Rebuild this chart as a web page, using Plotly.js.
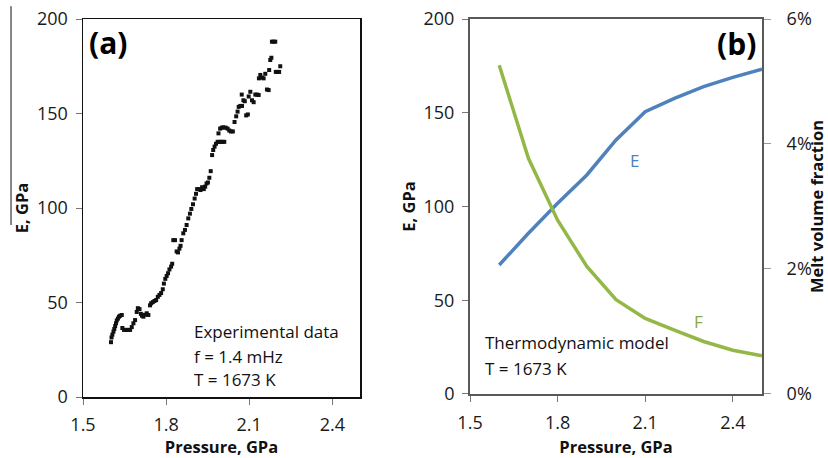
<!DOCTYPE html>
<html>
<head>
<meta charset="utf-8">
<script src="https://cdn.plot.ly/plotly-3.0.1.min.js"></script>
<style>html,body{margin:0;padding:0;background:#fff;}</style>
</head>
<body>
<div id="chart" style="width:828px;height:458px;"></div>
<script>
// Panel (a): experimental data
const pressureExp = [1.601,1.603,1.606,1.610,1.613,1.616,1.619,1.622,1.626,1.630,1.634,1.640,1.642,1.648,1.655,1.662,1.670,1.676,1.682,1.688,1.694,1.698,1.704,1.709,1.713,1.718,1.724,1.730,1.736,1.742,1.746,1.752,1.758,1.764,1.770,1.776,1.782,1.788,1.792,1.797,1.802,1.807,1.812,1.818,1.822,1.826,1.832,1.838,1.843,1.848,1.852,1.856,1.862,1.868,1.874,1.880,1.886,1.891,1.897,1.903,1.908,1.912,1.918,1.924,1.930,1.936,1.941,1.946,1.951,1.956,1.961,1.966,1.970,1.975,1.980,1.986,1.992,1.998,2.004,2.010,1.989,1.995,2.001,2.007,2.015,2.022,2.028,2.034,2.041,2.047,2.053,2.058,2.062,2.068,2.074,2.073,2.079,2.084,2.089,2.095,2.098,2.104,2.110,2.116,2.122,2.128,2.134,2.135,2.140,2.146,2.152,2.158,2.164,2.170,2.172,2.176,2.180,2.182,2.188,2.194,2.196,2.202,2.208,2.212];
const modulusExp = [29,31.5,33,34.6,36,37.5,39,40.5,41.5,42.5,43,43.4,36.5,35.5,35.5,35.5,35.5,37,39,40.7,45,47,46.5,44,43,42.5,43.5,44.3,43.4,48.5,49.6,50.2,50.8,51.3,53,54,55,57,60,62.5,64,65.5,67.5,69,70.5,83,83,77,76.5,78.5,80,83,86.6,88.4,91,94.5,97,99.5,102,105,107.5,110,110,109.5,111,110,111.3,113,113.5,116,119.5,128,130.7,132.5,134,135,135,135,135,135,139.5,142,142.5,142.7,142.5,142,141,140.5,140.5,145.5,148.5,151,153.5,154,154,160,157,156.5,149,149.5,159,161.5,157,156,160,160,159.8,168.6,170.4,169,168.6,171,162.7,162.4,173,178.3,179.5,188,188,188,172,172,172,175];

// Panel (b): thermodynamic model
const pressureModel = [1.6,1.7,1.8,1.9,2.0,2.1,2.2,2.3,2.4,2.5];
const modulusModel = [68.8,85.7,101.7,116.8,135.5,150.6,157.7,163.9,168.9,173.2];
const meltFraction = [0.0526,0.0377,0.0278,0.0204,0.0151,0.0121,0.0102,0.0084,0.0070,0.0061];

const pressureTicks = [1.5,1.8,2.1,2.4];
const pressureTickText = ['1.5','1.8','2.1','2.4'];

const FONT = 'Open Sans, sans-serif';
const tickFont = {family: FONT, size: 18, color: '#1a1a1a'};
const titleFont = {family: FONT, size: 16.5, color: '#111', weight: 'bold'};
const blue = '#4f81bd';
const green = '#93b847';

const traces = [
  {x: pressureExp, y: modulusExp, xaxis: 'x', yaxis: 'y', type: 'scatter', mode: 'markers',
   marker: {color: '#111', size: 4, symbol: 'square'}, hoverinfo: 'x+y'},
  {x: pressureModel, y: modulusModel, xaxis: 'x2', yaxis: 'y2', type: 'scatter', mode: 'lines',
   line: {color: blue, width: 3.5}},
  {x: pressureModel, y: meltFraction, xaxis: 'x2', yaxis: 'y3', type: 'scatter', mode: 'lines',
   line: {color: green, width: 3.5}}
];

function xax(domain, anchor, lc, lw) {
  return {domain: domain, anchor: anchor, range: [1.5, 2.5], tickvals: pressureTicks, ticktext: pressureTickText,
    ticks: 'outside', ticklen: 6, tickcolor: '#777', tickwidth: 1, showline: true, mirror: true, linecolor: lc, linewidth: lw,
    showgrid: false, zeroline: false, tickfont: tickFont, automargin: false, ticklabelstandoff: 5,
    title: {text: 'Pressure, GPa', font: titleFont, standoff: 10}};
}
function yax(domain, anchor, lc, lw) {
  return {domain: domain, anchor: anchor, range: [0, 200], tickvals: [0,50,100,150,200],
    ticks: 'outside', ticklen: 6, tickcolor: '#777', tickwidth: 1, showline: true, mirror: true, linecolor: lc, linewidth: lw,
    showgrid: false, zeroline: false, tickfont: tickFont, automargin: false, ticklabelstandoff: 4,
    title: {text: 'E, GPa', font: titleFont, standoff: 4}};
}

const annFont = {family: FONT, size: 17, color: '#111'};
function note(xr, yr, x, y, text, xanchor, font) {
  return {xref: xr, yref: yr, x: x, y: y, text: text, showarrow: false,
    xanchor: xanchor, yanchor: 'middle', font: font};
}
const boldBig = {family: FONT, size: 30, color: '#000', weight: 'bold'};

const layout = {
  width: 828, height: 458,
  margin: {l: 83, r: 66, t: 19, b: 61},
  paper_bgcolor: '#fff', plot_bgcolor: '#fff',
  showlegend: false,
  xaxis: xax([0, 0.408], 'y', '#111', 1.5),
  yaxis: yax([0, 1], 'x', '#111', 1.5),
  xaxis2: xax([0.570, 1], 'y2', '#595959', 2),
  yaxis2: Object.assign(yax([0.008, 1], 'x2', '#595959', 2), {mirror: false}),
  yaxis3: {overlaying: 'y2', anchor: 'x2', side: 'right', range: [0, 0.06], tickvals: [0,0.02,0.04,0.06],
    tickformat: '.0%', ticks: 'outside', ticklen: 7, tickcolor: '#999', showline: true, linecolor: '#595959', linewidth: 2,
    showgrid: false, zeroline: false, tickfont: tickFont, automargin: false, ticklabelstandoff: 12,
    title: {text: 'Melt volume fraction', font: titleFont, standoff: 14}},
  shapes: [
    {type: 'line', xref: 'paper', yref: 'paper', x0: -0.106, x1: -0.106, y0: 0.455, y1: 1.034,
     line: {color: '#111', width: 1}}
  ],
  annotations: [
    note('x domain', 'y domain', 0.090, 0.939, '(a)', 'center', boldBig),
    note('x domain', 'y domain', 0.3935, 0.172, 'Experimental data', 'left', annFont),
    note('x domain', 'y domain', 0.3935, 0.108, 'f = 1.4 mHz', 'left', annFont),
    note('x domain', 'y domain', 0.3935, 0.045, 'T = 1673 K', 'left', annFont),
    note('x2 domain', 'y2 domain', 0.914, 0.935, '(b)', 'center', boldBig),
    note('x2 domain', 'y2 domain', 0.0445, 0.136, 'Thermodynamic model', 'left', annFont),
    note('x2 domain', 'y2 domain', 0.0445, 0.069, 'T = 1673 K', 'left', annFont),
    note('x2 domain', 'y2 domain', 0.565, 0.623, 'E', 'center', {family: FONT, size: 17, color: blue}),
    note('x2 domain', 'y2 domain', 0.784, 0.192, 'F', 'center', {family: FONT, size: 17, color: '#8aa83e'})
  ]
};

Plotly.newPlot('chart', traces, layout, {displayModeBar: false, staticPlot: true});
</script>
</body>
</html>
